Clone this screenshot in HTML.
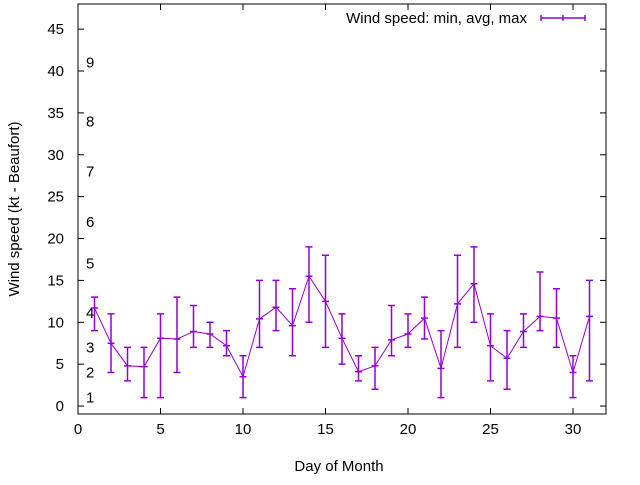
<!DOCTYPE html>
<html><head><meta charset="utf-8"><style>
body{margin:0;background:#fff}
svg text{font-family:"Liberation Sans",sans-serif;font-size:15px;fill:#000}
</style></head><body>
<svg id="chart" width="640" height="480" xmlns="http://www.w3.org/2000/svg"></svg>
<script>
const days=[1,2,3,4,5,6,7,8,9,10,11,12,13,14,15,16,17,18,19,20,21,22,23,24,25,26,27,28,29,30,31];
const avgVals=[11.7,7.5,4.8,4.7,8.1,8,8.9,8.6,7.2,3.5,10.4,11.8,9.6,15.5,12.5,8.1,4.1,4.8,7.9,8.6,10.5,4.5,12.2,14.6,7.2,5.7,8.9,10.7,10.5,4,10.7];
const minVals=[9,4,3,1,1,4,7,7,6,1,7,9,6,10,7,5,3,2,6,7,8,1,7,10,3,2,7,9,7,1,3];
const maxVals=[13,11,7,7,11,13,12,10,9,6,15,15,14,19,18,11,6,7,12,11,13,9,18,19,11,9,11,16,14,6,15];
const xTicks=[0,5,10,15,20,25,30];
const yTicks=[0,5,10,15,20,25,30,35,40,45];
const beaufortLabels=["1","2","3","4","5","6","7","8","9"];
const beaufortKt=[1,4,7,11.1,17,22,28,34,41];

const L=78,R=606,T=4,B=414,X0=0,X1=32,Y0=-0.95,Y1=48;
const sx=v=>L+(v-X0)/(X1-X0)*(R-L);
const sy=v=>B-(v-Y0)/(Y1-Y0)*(B-T);
const svg=document.getElementById('chart');
const NS="http://www.w3.org/2000/svg";
function mk(tag,attrs,txt){const e=document.createElementNS(NS,tag);for(const k in attrs)e.setAttribute(k,attrs[k]);if(txt!=null)e.textContent=txt;svg.appendChild(e);return e;}

let e=mk('rect',{x:L,y:T,width:R-L,height:B-T,fill:'none',stroke:'#000','stroke-width':1});


xTicks.forEach(t=>{
  const x=sx(t);
  let a=mk('line',{x1:x,y1:B,x2:x,y2:B-6,stroke:'#000'});
  
  
  let b=mk('line',{x1:x,y1:T,x2:x,y2:T+6,stroke:'#000'});
  
  
  let l=mk('text',{x:x,y:B+20,'text-anchor':'middle'},t);
  
  
});
yTicks.forEach(t=>{
  const y=sy(t);
  let a=mk('line',{x1:L,y1:y,x2:L+6,y2:y,stroke:'#000'});
  
  
  let b=mk('line',{x1:R,y1:y,x2:R-6,y2:y,stroke:'#000'});
  
  
  let l=mk('text',{x:L-14,y:y+5,'text-anchor':'end'},t);
  
  
});
beaufortLabels.forEach((s,i)=>{
  let l=mk('text',{x:86,y:sy(beaufortKt[i])+5},s);
  
  
});
let xt=mk('text',{x:339,y:471,'text-anchor':'middle'},'Day of Month');


let yt=mk('text',{x:0,y:0,'text-anchor':'middle',transform:'translate(19,209) rotate(-90)'},'Wind speed (kt - Beaufort)');



const C='#9400d3';
let pts=days.map((d,i)=>sx(d)+','+sy(avgVals[i])).join(' ');
let pl=mk('polyline',{points:pts,fill:'none',stroke:C,'stroke-width':1});


days.forEach((d,i)=>{
  const x=sx(d),y1=sy(minVals[i]),y2=sy(maxVals[i]),ya=sy(avgVals[i]);
  const g=document.createElementNS(NS,'path');
  g.setAttribute('d',`M${x},${y1}V${y2}M${x-3.5},${y1}H${x+3.5}M${x-3.5},${y2}H${x+3.5}M${x-3.5},${ya}H${x+3.5}`);
  g.setAttribute('stroke',C);g.setAttribute('stroke-width','1.5');g.setAttribute('fill','none');
  
  
  svg.appendChild(g);
});
let lt=mk('text',{x:527,y:23,'text-anchor':'end'},'Wind speed: min, avg, max');


let lg=mk('path',{d:'M541,18H585M541,15V21M585,15V21M563,15V21',stroke:C,'stroke-width':1.5,fill:'none'});


</script>
</body></html>
